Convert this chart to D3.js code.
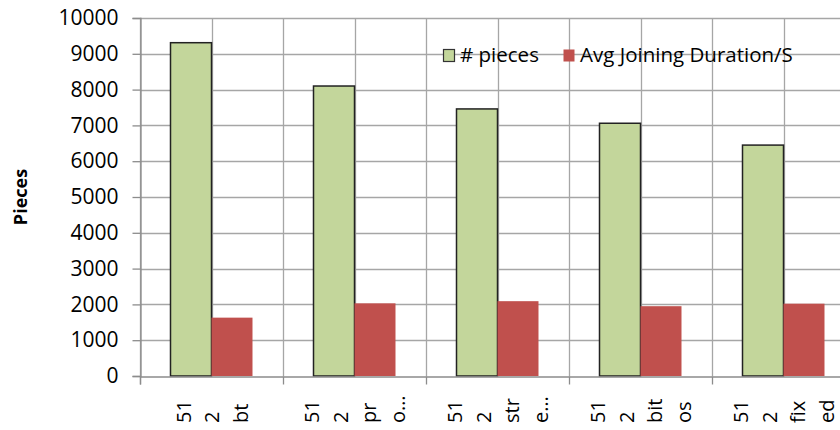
<!DOCTYPE html>
<html>
<head>
<meta charset="utf-8">
<script src="https://cdn.jsdelivr.net/npm/d3@7"></script>
<style>
  html, body { margin: 0; padding: 0; background: #fff; }
  svg { display: block; }
  text { font-family: "Open Sans", "Liberation Sans", Arial, sans-serif; fill: #000; }
</style>
</head>
<body>
<svg id="chart" width="840" height="430"></svg>
<script>
// ---- data ----
const categories = ["c1", "c2", "c3", "c4", "c5"];
const categoryLines = [
  ["51", "2", "bt"],
  ["51", "2", "pr", "o…"],
  ["51", "2", "str", "e…"],
  ["51", "2", "bit", "os"],
  ["51", "2", "fix", "ed"]
];
const seriesNames = ["# pieces", "Avg Joining Duration/S"];
const pieces = [9310, 8100, 7460, 7060, 6450];
const avgJoining = [1630, 2030, 2090, 1950, 2020];
const yTicks = [0, 1000, 2000, 3000, 4000, 5000, 6000, 7000, 8000, 9000, 10000];
const yTitle = "Pieces";

const colors = ["#C3D69B", "#C0504D"];
const seriesValues = [pieces, avgJoining];

// ---- layout ----
const svg = d3.select("#chart");
const plotLeft = 140, plotRight = 855, plotTop = 18, plotBottom = 376;
const fontFam = "'Open Sans', 'Liberation Sans', Arial, sans-serif";

const x0 = d3.scaleBand().domain(categories).range([plotLeft, plotRight]).paddingInner(0).paddingOuter(0);
const x1 = d3.scaleBand().domain(seriesNames).range([0, x0.bandwidth()]).paddingInner(0).paddingOuter(0.744);
const y = d3.scaleLinear().domain([0, 10000]).range([plotBottom, plotTop]);
const xb = d3.scaleLinear().domain([0, categories.length]).range([plotLeft, plotRight]);

const gridColor = "#a6a6a6";

// horizontal gridlines
svg.append("g").selectAll("line").data(yTicks.filter(d => d > 0)).join("line")
  .attr("x1", plotLeft).attr("x2", 840)
  .attr("y1", d => Math.round(y(d)) + 0.5).attr("y2", d => Math.round(y(d)) + 0.5)
  .attr("stroke", gridColor).attr("stroke-width", 1.3);

// vertical gridlines (category boundaries and centers)
const vgrid = d3.range(0, categories.length * 2 + 1).map(i => i / 2);
svg.append("g").selectAll("line").data(vgrid).join("line")
  .attr("x1", d => Math.round(xb(d)) + 0.5).attr("x2", d => Math.round(xb(d)) + 0.5)
  .attr("y1", plotTop).attr("y2", plotBottom)
  .attr("stroke", gridColor).attr("stroke-width", 1.3);

// bars
const groups = svg.append("g").selectAll("g").data(categories).join("g")
  .attr("transform", d => `translate(${x0(d)},0)`);
groups.selectAll("rect")
  .data((c, ci) => seriesNames.map((s, si) => ({ s, si, v: seriesValues[si][ci] })))
  .join("rect")
  .attr("x", d => x1(d.s))
  .attr("width", x1.bandwidth())
  .attr("y", d => y(d.v))
  .attr("height", d => y(0) - y(d.v))
  .attr("fill", d => colors[d.si])
  .attr("stroke", d => d.si === 0 ? "#222" : "none")
  .attr("stroke-width", 1.5);

// y axis
const yAxis = svg.append("g").attr("transform", `translate(${plotLeft + 0.5},0)`)
  .call(d3.axisLeft(y).tickValues(yTicks).tickSize(8).tickPadding(14).tickFormat(d3.format("d")));
yAxis.select(".domain").attr("stroke", "#8c8c8c").attr("stroke-width", 1.3);
yAxis.selectAll(".tick line").attr("stroke", "#8c8c8c").attr("stroke-width", 1.3);
yAxis.selectAll("text").style("font-size", "21px").attr("fill", "#000")
  .style("font-family", fontFam);

// x axis (ticks at category boundaries)
const xAxis = svg.append("g").attr("transform", `translate(0,${plotBottom + 0.5})`)
  .call(d3.axisBottom(xb).tickValues(d3.range(0, categories.length + 1)).tickSize(8).tickFormat(""));
xAxis.select(".domain").attr("stroke", "#8c8c8c").attr("stroke-width", 1.3);
xAxis.selectAll(".tick line").attr("stroke", "#8c8c8c").attr("stroke-width", 1.3);

// category labels (rotated, wrapped lines)
const lineStep = 28.5;
categories.forEach((c, ci) => {
  const lines = categoryLines[ci];
  const cx = x0(c) + x0.bandwidth() / 2 + 0.5;
  lines.forEach((t, li) => {
    const lx = cx + (li - (lines.length - 1) / 2) * lineStep;
    svg.append("text")
      .attr("transform", `translate(${lx},423) rotate(-90)`)
      .attr("dy", "0.36em")
      .attr("text-anchor", "start")
      .style("font-size", "20px")
      .text(t);
  });
});

// y title
svg.append("text")
  .attr("transform", `translate(21,${(plotTop + plotBottom) / 2}) rotate(-90)`)
  .attr("text-anchor", "middle")
  .attr("dy", "0.36em")
  .style("font-size", "18px").style("font-weight", "bold")
  .text(yTitle);

// legend
const legendItems = [
  { name: seriesNames[0], color: colors[0], stroke: "#333", x: 443 },
  { name: seriesNames[1], color: colors[1], stroke: "none", x: 563 }
];
const lg = svg.append("g").selectAll("g").data(legendItems).join("g")
  .attr("transform", d => `translate(${d.x},49)`);
lg.append("rect").attr("x", 0.5).attr("y", 0.5).attr("width", 11).attr("height", 12)
  .attr("fill", d => d.color).attr("stroke", d => d.stroke).attr("stroke-width", 1.2);
lg.append("text").attr("x", 17).attr("y", 12.5)
  .style("font-size", "20.5px").text(d => d.name);
</script>
</body>
</html>
